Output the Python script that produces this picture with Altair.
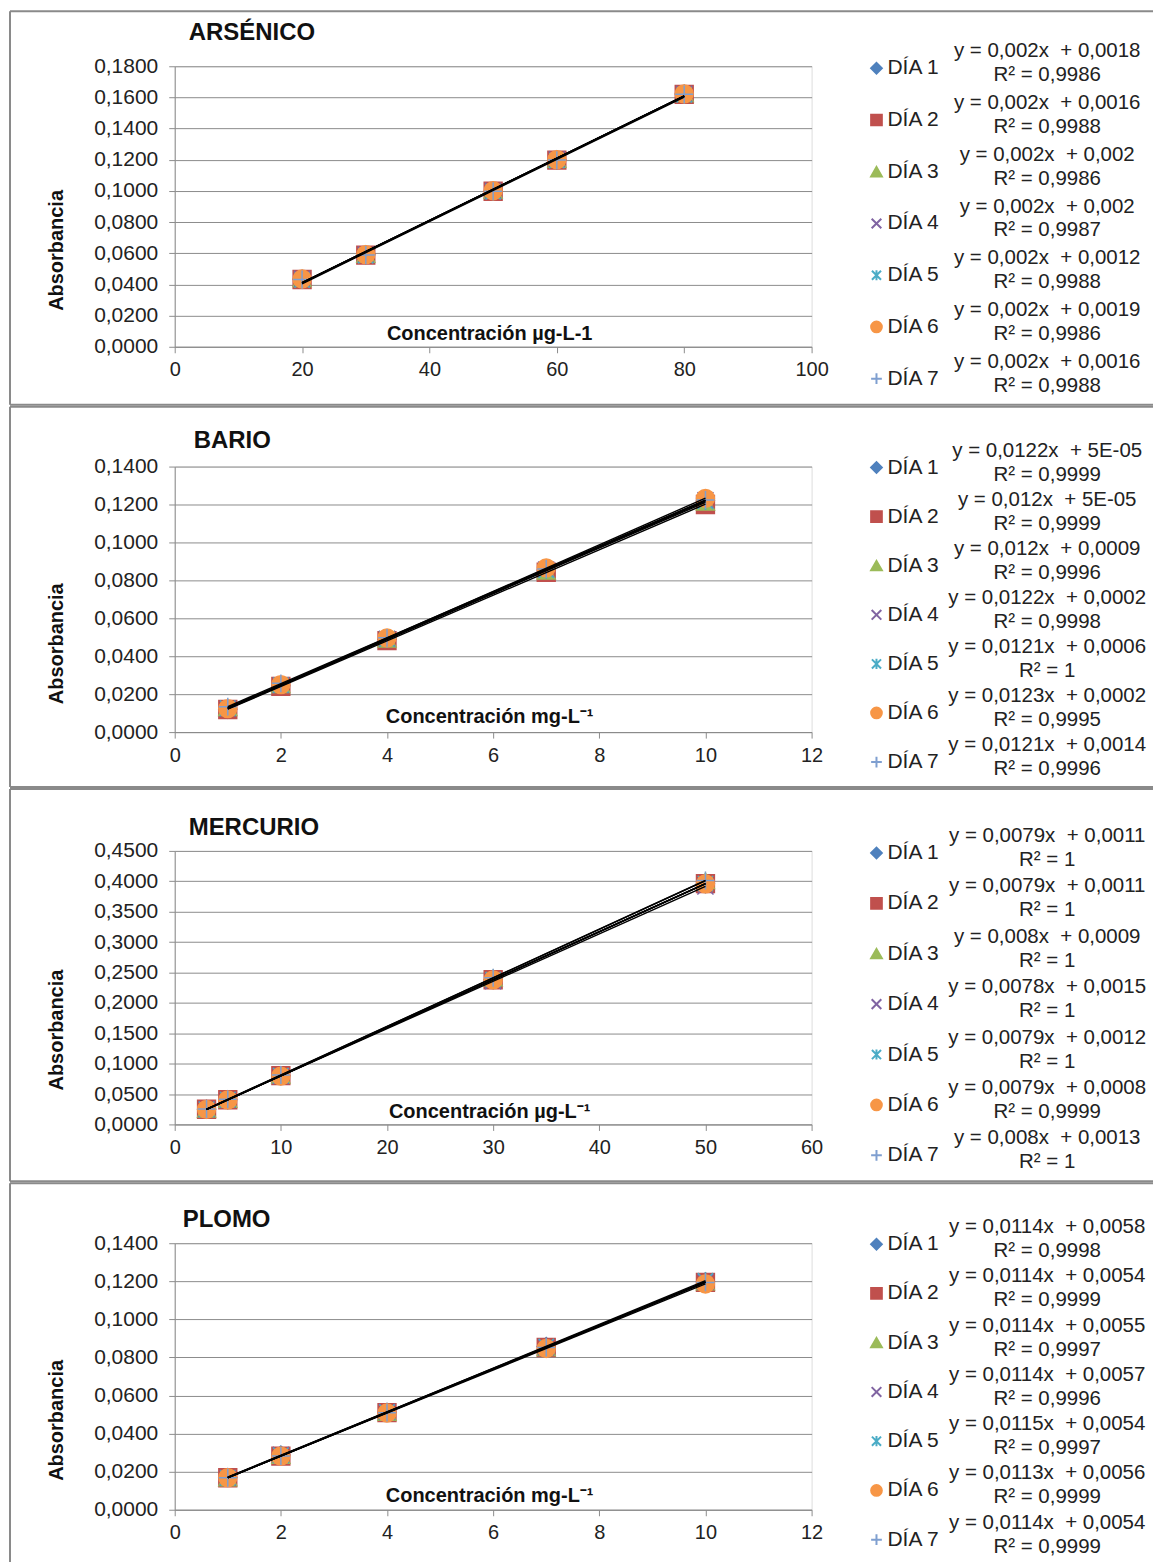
import altair as alt
import pandas as pd

FONT = "Liberation Sans"
TXT = "#222222"
GRAY = "#8c8c8c"
BORDER = "#8a8a8a"
SP = "\u00a0 "  # Excel-style double space before "+"

DAYS = ["DÍA 1", "DÍA 2", "DÍA 3", "DÍA 4", "DÍA 5", "DÍA 6", "DÍA 7"]
COLORS = ["#4F81BD", "#C0504D", "#9BBB59", "#8064A2", "#4BACC6", "#F79646", "#7F9FD0"]
X_PATH = "M-0.9,-0.9L0.9,0.9M-0.9,0.9L0.9,-0.9"
STAR_PATH = "M-0.85,-0.85L0.85,0.85M-0.85,0.85L0.85,-0.85M0,-0.95L0,0.95"
PLUS_PATH = "M0,-1L0,1M-1,0L1,0"
SHAPES = ["diamond", "square", "triangle-up", X_PATH, STAR_PATH, "circle", PLUS_PATH]

# ---------------- ARSÉNICO ----------------
AS_X = [20, 30, 50, 60, 80]
AS_Y = [
    [0.0434, 0.0590, 0.1000, 0.1200, 0.1622],
    [0.0432, 0.0588, 0.0998, 0.1198, 0.1620],
    [0.0436, 0.0592, 0.1002, 0.1202, 0.1624],
    [0.0437, 0.0591, 0.1001, 0.1203, 0.1623],
    [0.0428, 0.0584, 0.0994, 0.1194, 0.1616],
    [0.0435, 0.0591, 0.1001, 0.1201, 0.1623],
    [0.0432, 0.0589, 0.0998, 0.1198, 0.1620],
]
AS_EQ = ["y = 0,002x", "y = 0,002x", "y = 0,002x", "y = 0,002x",
         "y = 0,002x", "y = 0,002x", "y = 0,002x"]
AS_B = ["+ 0,0018", "+ 0,0016", "+ 0,002", "+ 0,002", "+ 0,0012", "+ 0,0019", "+ 0,0016"]
AS_R2 = ["R² = 0,9986", "R² = 0,9988", "R² = 0,9986", "R² = 0,9987",
         "R² = 0,9988", "R² = 0,9986", "R² = 0,9988"]
AS_XTICKS = [0, 20, 40, 60, 80, 100]
AS_YTICKS = [0.0, 0.02, 0.04, 0.06, 0.08, 0.10, 0.12, 0.14, 0.16, 0.18]

# ---------------- BARIO ----------------
BA_X = [1, 2, 4, 7, 10]
BA_Y = [
    [0.0121, 0.0245, 0.0490, 0.0855, 0.1220],
    [0.0119, 0.0241, 0.0482, 0.0843, 0.1200],
    [0.0128, 0.0250, 0.0489, 0.0848, 0.1212],
    [0.0123, 0.0247, 0.0492, 0.0857, 0.1222],
    [0.0127, 0.0248, 0.0490, 0.0853, 0.1216],
    [0.0124, 0.0250, 0.0497, 0.0866, 0.1232],
    [0.0134, 0.0257, 0.0497, 0.0860, 0.1224],
]
BA_EQ = ["y = 0,0122x", "y = 0,012x", "y = 0,012x", "y = 0,0122x",
         "y = 0,0121x", "y = 0,0123x", "y = 0,0121x"]
BA_B = ["+ 5E-05", "+ 5E-05", "+ 0,0009", "+ 0,0002", "+ 0,0006", "+ 0,0002", "+ 0,0014"]
BA_R2 = ["R² = 0,9999", "R² = 0,9999", "R² = 0,9996", "R² = 0,9998",
         "R² = 1", "R² = 0,9995", "R² = 0,9996"]
BA_XTICKS = [0, 2, 4, 6, 8, 10, 12]
BA_YTICKS = [0.0, 0.02, 0.04, 0.06, 0.08, 0.10, 0.12, 0.14]

# ---------------- MERCURIO ----------------
HG_X = [3, 5, 10, 30, 50]
HG_Y = [
    [0.0248, 0.0406, 0.0801, 0.2381, 0.3961],
    [0.0249, 0.0405, 0.0802, 0.2380, 0.3962],
    [0.0250, 0.0410, 0.0810, 0.2410, 0.4009],
    [0.0249, 0.0405, 0.0795, 0.2355, 0.3915],
    [0.0249, 0.0407, 0.0802, 0.2382, 0.3962],
    [0.0248, 0.0403, 0.0795, 0.2378, 0.3958],
    [0.0253, 0.0413, 0.0813, 0.2413, 0.4013],
]
HG_EQ = ["y = 0,0079x", "y = 0,0079x", "y = 0,008x", "y = 0,0078x",
         "y = 0,0079x", "y = 0,0079x", "y = 0,008x"]
HG_B = ["+ 0,0011", "+ 0,0011", "+ 0,0009", "+ 0,0015", "+ 0,0012", "+ 0,0008", "+ 0,0013"]
HG_R2 = ["R² = 1", "R² = 1", "R² = 1", "R² = 1", "R² = 1", "R² = 0,9999", "R² = 1"]
HG_XTICKS = [0, 10, 20, 30, 40, 50, 60]
HG_YTICKS = [0.0, 0.05, 0.10, 0.15, 0.20, 0.25, 0.30, 0.35, 0.40, 0.45]

# ---------------- PLOMO ----------------
PB_X = [1, 2, 4, 7, 10]
PB_Y = [
    [0.0170, 0.0288, 0.0512, 0.0858, 0.1197],
    [0.0168, 0.0282, 0.0510, 0.0852, 0.1194],
    [0.0167, 0.0285, 0.0511, 0.0851, 0.1196],
    [0.0168, 0.0288, 0.0514, 0.0853, 0.1196],
    [0.0167, 0.0286, 0.0513, 0.0858, 0.1203],
    [0.0169, 0.0282, 0.0508, 0.0847, 0.1186],
    [0.0168, 0.0282, 0.0510, 0.0852, 0.1194],
]
PB_EQ = ["y = 0,0114x", "y = 0,0114x", "y = 0,0114x", "y = 0,0114x",
         "y = 0,0115x", "y = 0,0113x", "y = 0,0114x"]
PB_B = ["+ 0,0058", "+ 0,0054", "+ 0,0055", "+ 0,0057", "+ 0,0054", "+ 0,0056", "+ 0,0054"]
PB_R2 = ["R² = 0,9998", "R² = 0,9999", "R² = 0,9997", "R² = 0,9996",
         "R² = 0,9997", "R² = 0,9999", "R² = 0,9999"]
PB_XTICKS = [0, 2, 4, 6, 8, 10, 12]
PB_YTICKS = [0.0, 0.02, 0.04, 0.06, 0.08, 0.10, 0.12, 0.14]

PLOT_W = 638


def panel(title, xs, ys, eqs, bs, r2s, xticks, yticks, xtitle, H, top_rel, bot_rel,
          leg_range, ytitle_y, xtitle_y, t_x, t_y):
    rows = [{"day": DAYS[d], "x": xs[i], "y": ys[d][i]}
            for d in range(len(DAYS)) for i in range(len(xs))]
    df = pd.DataFrame(rows)

    xaxis = alt.Axis(values=xticks, grid=False, tickSize=6, tickColor=GRAY,
                     domainColor=GRAY, labelPadding=7, labelFontSize=20,
                     labelFont=FONT, labelColor=TXT, labelFlush=False,
                     labelOverlap=False, title=xtitle, titleX=315, titleY=xtitle_y,
                     titleBaseline="middle", titleAlign="center", titleFontSize=20,
                     titleFont=FONT, titleFontWeight="bold", titleColor="#111111")
    yaxis = alt.Axis(values=yticks, grid=True, gridColor=GRAY, tickSize=6,
                     tickColor=GRAY, domainColor=GRAY, labelPadding=11,
                     labelFontSize=21, labelFont=FONT, labelColor=TXT,
                     labelFlush=False, labelOverlap=False,
                     labelExpr="replace(format(datum.value, '.4f'), '.', ',')",
                     title="Absorbancia", titleX=-118, titleY=ytitle_y,
                     titleBaseline="middle", titleFontSize=20, titleFont=FONT,
                     titleFontWeight="bold", titleColor="#111111")
    xsc = alt.Scale(domain=[xticks[0], xticks[-1]], nice=False, zero=False)
    ysc = alt.Scale(domain=[yticks[0], yticks[-1]], nice=False)

    color = alt.Color("day:N", scale=alt.Scale(domain=DAYS, range=COLORS), legend=None)
    stroke = alt.Stroke("day:N", scale=alt.Scale(domain=DAYS, range=COLORS), legend=None)
    shape = alt.Shape("day:N", scale=alt.Scale(domain=DAYS, range=SHAPES), legend=None)

    base = alt.Chart(df)
    pts = base.mark_point(filled=True, opacity=1, size=320, strokeWidth=1.5).encode(
        x=alt.X("x:Q", scale=xsc, axis=xaxis),
        y=alt.Y("y:Q", scale=ysc, axis=yaxis),
        color=color, stroke=stroke, shape=shape,
    )
    lines = base.transform_regression("x", "y", groupby=["day"]).mark_line(
        color="black", strokeWidth=1.4
    ).encode(
        x=alt.X("x:Q", scale=xsc, axis=xaxis),
        y=alt.Y("y:Q", scale=ysc, axis=yaxis),
        detail="day:N",
    )
    inner = alt.layer(pts, lines)

    leg_df = pd.DataFrame({"day": DAYS,
                           "eq": [e + SP + b + "\n" + r for e, b, r in zip(eqs, bs, r2s)]})
    ly = alt.Y("day:N", scale=alt.Scale(type="point", domain=DAYS,
                                         range=leg_range, padding=0), axis=None)
    lchart = alt.Chart(leg_df)
    sym = lchart.mark_point(filled=True, opacity=1, size=115, strokeWidth=2).encode(
        x=alt.value(703), y=ly, color=color, stroke=stroke, shape=shape)
    lab = lchart.mark_text(align="left", baseline="middle", fontSize=21, font=FONT,
                           color=TXT).encode(x=alt.value(714), y=ly, text="day:N")
    eqt = lchart.mark_text(align="center", baseline="middle", fontSize=20.5, font=FONT,
                           color=TXT, lineBreak="\n", lineHeight=24, dy=-17).encode(
        x=alt.value(874), y=ly, text="eq:N")

    one = pd.DataFrame({"k": [0]})
    bchart = alt.Chart(one)
    ttl = bchart.mark_text(align="left", baseline="middle", fontSize=24, font=FONT,
                           fontWeight="bold", color="#111111").encode(
        x=alt.value(t_x), y=alt.value(t_y), text=alt.value(title))
    borders = [
        bchart.mark_rule(color=BORDER, strokeWidth=2).encode(
            x=alt.value(-165), x2=alt.value(980), y=alt.value(top_rel)),
        bchart.mark_rule(color=BORDER, strokeWidth=2).encode(
            x=alt.value(-165), y=alt.value(top_rel),
            y2=alt.value(bot_rel if bot_rel is not None else H + 60)),
    ]
    if bot_rel is not None:
        borders.append(bchart.mark_rule(color=BORDER, strokeWidth=2).encode(
            x=alt.value(-165), x2=alt.value(980), y=alt.value(bot_rel)))

    return alt.layer(inner, sym, lab, eqt, ttl, *borders).resolve_scale(
        y="independent"
    ).properties(width=PLOT_W, height=H)


p1 = panel("ARSÉNICO", AS_X, AS_Y, AS_EQ, AS_B, AS_R2, AS_XTICKS, AS_YTICKS,
           "Concentración µg-L-1", 281, -55, 339, [2, 313], 184, -13, 14, -33)
p2 = panel("BARIO", BA_X, BA_Y, BA_EQ, BA_B, BA_R2, BA_XTICKS, BA_YTICKS,
           "Concentración mg-L⁻¹", 266, -60, 321, [1, 296], 177, -16, 19, -26)
p3 = panel("MERCURIO", HG_X, HG_Y, HG_EQ, HG_B, HG_R2, HG_XTICKS, HG_YTICKS,
           "Concentración µg-L⁻¹", 274, -62, 331, [2, 305], 179, -13, 14, -23)
p4 = panel("PLOMO", PB_X, PB_Y, PB_EQ, PB_B, PB_R2, PB_XTICKS, PB_YTICKS,
           "Concentración mg-L⁻¹", 267, -60, None, [1, 297], 177, -14, 8, -23)

chart = alt.vconcat(p1, p2, p3, p4, spacing=-2).properties(
    padding=0, background="white"
).configure_view(stroke=None).configure(font=FONT)

chart.save("out.html", embed_options={"renderer": "svg", "actions": False})
